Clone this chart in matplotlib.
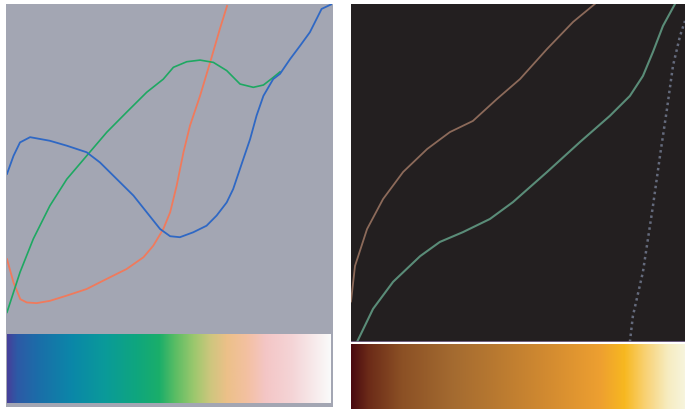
import matplotlib.pyplot as plt
import numpy as np
from matplotlib.colors import LinearSegmentedColormap

# left panel: channel curves (x = position in colormap, y = channel value)
left_blue_x = [0.0, 0.02, 0.04, 0.071, 0.132, 0.184, 0.245, 0.286, 0.338, 0.389, 0.43, 0.471, 0.502,
               0.532, 0.573, 0.614, 0.645, 0.676, 0.696, 0.727, 0.748, 0.768, 0.789, 0.819, 0.84,
               0.871, 0.902, 0.932, 0.968, 1.0]
left_blue_y = [0.482, 0.537, 0.578, 0.594, 0.583, 0.568, 0.548, 0.517, 0.466, 0.416, 0.365, 0.314, 0.292,
               0.289, 0.304, 0.324, 0.355, 0.395, 0.436, 0.527, 0.588, 0.66, 0.72, 0.771, 0.787,
               0.832, 0.873, 0.914, 0.985, 1.0]
left_green_x = [0.0, 0.02, 0.04, 0.081, 0.132, 0.184, 0.245, 0.307, 0.368, 0.43, 0.481, 0.512, 0.553,
                0.594, 0.635, 0.676, 0.717, 0.758, 0.789, 0.819, 0.84]
left_green_y = [0.06, 0.121, 0.182, 0.284, 0.385, 0.466, 0.537, 0.609, 0.67, 0.731, 0.771, 0.807, 0.824,
                0.829, 0.822, 0.797, 0.756, 0.746, 0.753, 0.776, 0.793]
left_red_x = [0.0, 0.02, 0.041, 0.061, 0.091, 0.132, 0.184, 0.245, 0.307, 0.368, 0.42, 0.45, 0.481,
              0.502, 0.522, 0.543, 0.563, 0.594, 0.625, 0.655, 0.677]
left_red_y = [0.222, 0.151, 0.10, 0.09, 0.088, 0.095, 0.111, 0.131, 0.162, 0.192, 0.228, 0.263, 0.314,
              0.365, 0.446, 0.548, 0.629, 0.72, 0.822, 0.924, 0.994]

# right panel
right_red_x = [0.0, 0.012, 0.048, 0.096, 0.156, 0.228, 0.296, 0.365, 0.437, 0.506, 0.587, 0.665, 0.73]
right_red_y = [0.12, 0.225, 0.334, 0.423, 0.503, 0.571, 0.621, 0.654, 0.719, 0.778, 0.867, 0.947, 1.0]
right_green_x = [0.018, 0.066, 0.126, 0.207, 0.266, 0.335, 0.416, 0.485, 0.587, 0.686, 0.775, 0.835,
                 0.874, 0.904, 0.934, 0.97]
right_green_y = [0.0, 0.098, 0.178, 0.254, 0.296, 0.325, 0.364, 0.414, 0.503, 0.592, 0.669, 0.728,
                 0.787, 0.858, 0.935, 1.0]
right_blue_x = [0.835, 0.844, 0.874, 0.904, 0.925, 0.946, 0.964, 0.985, 1.0]
right_blue_y = [0.0, 0.077, 0.207, 0.402, 0.55, 0.689, 0.817, 0.905, 0.95]

# colorbar stops
left_stops = [0.0, 0.03, 0.1, 0.2, 0.3, 0.4, 0.47, 0.52, 0.58, 0.63, 0.68, 0.74, 0.8, 0.88, 1.0]
left_colors = ['#45409a', '#2d5aa6', '#1a6fa9', '#0b87a8', '#0a9a9a', '#0fa67e', '#1aae6a',
               '#5bbd64', '#9ec86e', '#cfc67e', '#ecc089', '#f3c0a0', '#f4c6c6', '#f4d4d6', '#fafafa']
right_stops = [0.0, 0.05, 0.15, 0.3, 0.45, 0.6, 0.75, 0.82, 0.88, 0.95, 1.0]
right_colors = ['#4a0a10', '#6b2a18', '#8b5025', '#a36a30', '#bb7b30', '#d48c30', '#eea030',
                '#f7b820', '#f9d070', '#f6ecc0', '#f7f4dc']

W, H = 685, 410


def box(x0, y0, x1, y1):
    # pixel box (top-left origin) -> figure fraction rect
    return [x0 / W, 1 - y1 / H, (x1 - x0) / W, (y1 - y0) / H]


fig = plt.figure(figsize=(6.85, 4.1), dpi=100)
fig.patch.set_facecolor('white')

# left panel background
bg = fig.add_axes(box(6, 5, 333, 408))
bg.set_facecolor('#a3a6b3')
bg.set_xticks([])
bg.set_yticks([])
for s in bg.spines.values():
    s.set_visible(False)

ax1 = fig.add_axes(box(7, 5, 332, 333))
ax1.set_facecolor('#a3a6b3')
ax1.plot(left_red_x, left_red_y, color='#f07a5c', lw=1.3)
ax1.plot(left_green_x, left_green_y, color='#1ea862', lw=1.2)
ax1.plot(left_blue_x, left_blue_y, color='#2f68c4', lw=1.3)
ax1.set_xlim(0, 1)
ax1.set_ylim(0, 1)
ax1.axis('off')

grad = np.linspace(0, 1, 256).reshape(1, -1)

cb1 = fig.add_axes(box(7, 335, 331, 404))
cmap1 = LinearSegmentedColormap.from_list('left', list(zip(left_stops, left_colors)))
cb1.imshow(grad, aspect='auto', cmap=cmap1, extent=[0, 1, 0, 1])
cb1.axis('off')

# right panel
ax2 = fig.add_axes(box(351, 5, 685, 343))
ax2.set_facecolor('#231f20')
ax2.plot(right_red_x, right_red_y, color='#8c6a5a', lw=1.3)
ax2.plot(right_green_x, right_green_y, color='#5a8c78', lw=1.5)
ax2.plot(right_blue_x, right_blue_y, color='#646a7c', lw=1.8, linestyle=(0, (1.0, 1.4)))
ax2.set_xlim(0, 1)
ax2.set_ylim(0, 1)
ax2.set_xticks([])
ax2.set_yticks([])
for s in ax2.spines.values():
    s.set_visible(False)
ax2.axhline(0, color='#7a6a8c', lw=2)

cb2 = fig.add_axes(box(351, 345, 685, 410))
cmap2 = LinearSegmentedColormap.from_list('right', list(zip(right_stops, right_colors)))
cb2.imshow(grad, aspect='auto', cmap=cmap2, extent=[0, 1, 0, 1])
cb2.axis('off')

fig.savefig('out.png', dpi=100)
